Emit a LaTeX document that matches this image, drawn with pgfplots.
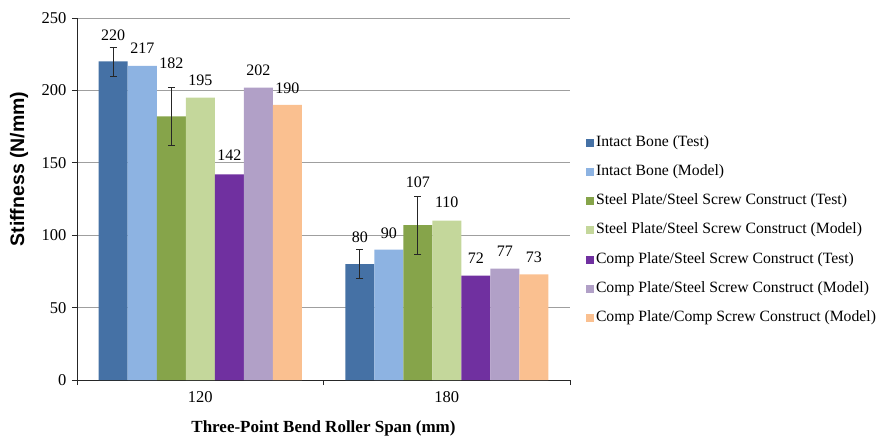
\documentclass[border=0pt]{standalone}
\usepackage{fontspec}
\setmainfont{Liberation Serif}
\setsansfont{Liberation Sans}
\usepackage{pgfplots}
\usepackage{pgfplotstable}
\pgfplotsset{compat=1.18}

\definecolor{ibt}{HTML}{4571A5}
\definecolor{ibm}{HTML}{8DB3E2}
\definecolor{sst}{HTML}{86A44A}
\definecolor{ssm}{HTML}{C4D79B}
\definecolor{cst}{HTML}{7030A0}
\definecolor{csm}{HTML}{B1A0C7}
\definecolor{ccm}{HTML}{FAC090}

% x y error label-offset(pt above bar top)
\pgfplotstableread{
x y e off
0 220 10 26.5
1 80 10 27
}\ibtest
\pgfplotstableread{
x y e off
0 217 0 18
1 90 0 16.5
}\ibmodel
\pgfplotstableread{
x y e off
0 182 20 53.5
1 107 20 43
}\sstest
\pgfplotstableread{
x y e off
0 195 0 17.5
1 110 0 18
}\ssmodel
\pgfplotstableread{
x y e off
0 142 0 19
1 72 0 17.5
}\cstest
\pgfplotstableread{
x y e off
0 202 0 17.5
1 77 0 17
}\csmodel
\pgfplotstableread{
x y e off
0 190 0 17
1 73 0 17.5
}\ccmodel

\begin{document}
\begin{tikzpicture}
\useasboundingbox (-77pt,-62pt) rectangle (800pt,380pt);
\begin{axis}[
    scale only axis,
    width=493pt, height=362pt,
    ybar=0pt, bar width=29pt,
    xmin=-0.5, xmax=1.5, ymin=0, ymax=250,
    ytick={0,50,...,250},
    xtick={-0.5,0.5,1.5},
    x tick label as interval,
    xticklabels={120,180},
    /pgf/number format/assume math mode=true,
    axis x line*=bottom, axis y line*=left,
    ymajorgrids,
    grid style={gray!75, line width=0.8pt},
    axis line style={black!85, line width=0.8pt},
    tick style={black!85, line width=0.8pt},
    tick align=outside, major tick length=5pt,
    ticklabel style={font=\fontsize{16.5}{18}\selectfont},
    xticklabel style={yshift=-3pt},
    yticklabel style={xshift=-2pt},
    xlabel={\bfseries Three-Point Bend Roller Span (mm)},
    xlabel style={font=\fontsize{17}{20}\selectfont, at={(axis description cs:0.5,0)}, anchor=center, yshift=-48pt},
    ylabel={\sffamily\bfseries Stiffness (N/mm)},
    ylabel style={font=\fontsize{19.5}{22}\selectfont, at={(axis description cs:-0.1176,0.583)}, anchor=center},
    visualization depends on={\thisrow{off}\as\off},
    nodes near coords={\pgfmathprintnumber[assume math mode=true]{\pgfplotspointmeta}},
    every node near coord/.append style={font=\fontsize{16}{18}\selectfont, anchor=center, yshift=\off pt, text=black},
    legend image code/.code={\fill[#1] (0pt,-4pt) rectangle (8pt,4pt);},
    legend cell align=left,
    legend style={draw=none, fill=none, at={(1.026,0.413)}, anchor=west,
        font=\fontsize{15.7}{18}\selectfont,
        nodes={inner sep=2pt, text height=11pt, text depth=4pt},
        row sep=10.2pt,
        /tikz/every odd column/.append style={column sep=0pt}},
    error bars/error bar style={draw=black!85, line width=0.8pt},
    error bars/error mark options={rotate=90, mark size=3.5pt, draw=black!85, line width=0.8pt},
]
\addplot[fill=ibt, draw=none, error bars/.cd, y dir=both, y explicit]
    table[x=x, y=y, y error=e]{\ibtest};
\addplot[fill=ibm, draw=none] table[x=x, y=y]{\ibmodel};
\addplot[fill=sst, draw=none, error bars/.cd, y dir=both, y explicit]
    table[x=x, y=y, y error=e]{\sstest};
\addplot[fill=ssm, draw=none] table[x=x, y=y]{\ssmodel};
\addplot[fill=cst, draw=none] table[x=x, y=y]{\cstest};
\addplot[fill=csm, draw=none] table[x=x, y=y]{\csmodel};
\addplot[fill=ccm, draw=none] table[x=x, y=y]{\ccmodel};
\legend{Intact Bone (Test), Intact Bone (Model),
    Steel Plate/Steel Screw Construct (Test),
    Steel Plate/Steel Screw Construct (Model),
    Comp Plate/Steel Screw Construct (Test),
    Comp Plate/Steel Screw Construct (Model),
    Comp Plate/Comp Screw Construct (Model)}
\end{axis}
\end{tikzpicture}
\end{document}
